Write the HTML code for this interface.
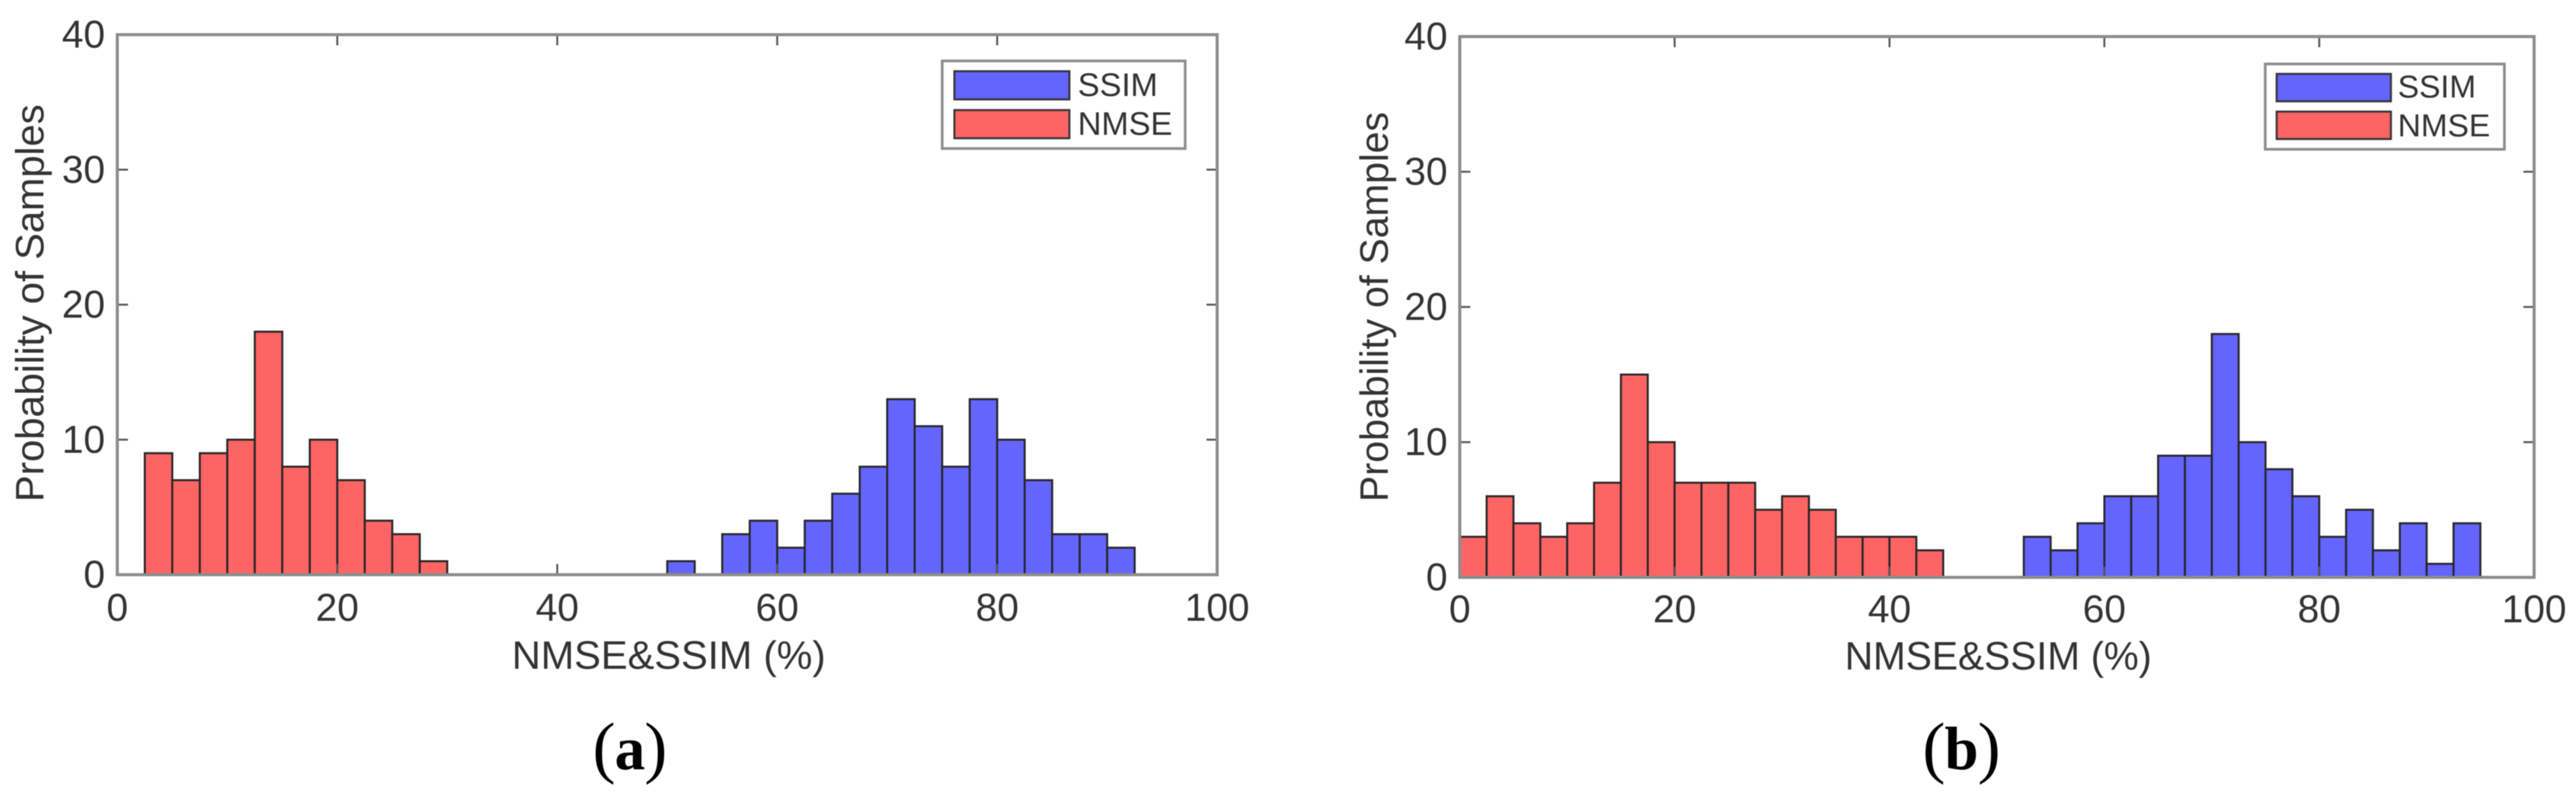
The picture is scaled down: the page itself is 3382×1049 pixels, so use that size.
<!DOCTYPE html>
<html lang="en">
<head>
<meta charset="utf-8">
<title>NMSE and SSIM histograms</title>
<style>
  html, body { margin: 0; padding: 0; background: #fff; }
  body { width: 3382px; height: 1049px; overflow: hidden; }
  svg { display: block; filter: blur(0.6px); }
  text { font-family: "Liberation Sans", Arial, sans-serif; fill: #333; }
  .caption { font-family: "Liberation Serif", "Times New Roman", serif; fill: #000; font-size: 90px; }
  .caption tspan.letter { font-size: 80px; font-weight: bold; }
</style>
</head>
<body>
<svg id="figure" xmlns="http://www.w3.org/2000/svg" width="3382" height="1049" viewBox="0 0 3382 1049">
  <rect x="0" y="0" width="3382" height="1049" fill="#ffffff"/>
  <text class="caption" x="778" y="1011">(<tspan class="letter" y="1010" dx="-1">a</tspan><tspan y="1011" dx="-1">)</tspan></text>
  <text class="caption" x="2524" y="1011">(<tspan class="letter" y="1010" dx="-1">b</tspan><tspan y="1011" dx="-1">)</tspan></text>
</svg>
<script>
// Chart data
const binWidth = 2.5;
const xTickLabels = [0, 20, 40, 60, 80, 100];
const yTickLabels = [0, 10, 20, 30, 40];
const legendLabels = ['SSIM', 'NMSE'];

const nmseStartA = 2.5;
const nmseValuesA = [9, 7, 9, 10, 18, 8, 10, 7, 4, 3, 1];
const ssimStartA = 50;
const ssimValuesA = [1, 0, 3, 4, 2, 4, 6, 8, 13, 11, 8, 13, 10, 7, 3, 3, 2];

const nmseStartB = 0;
const nmseValuesB = [3, 6, 4, 3, 4, 7, 15, 10, 7, 7, 7, 5, 6, 5, 3, 3, 3, 2];
const ssimStartB = 52.5;
const ssimValuesB = [3, 2, 4, 6, 6, 9, 9, 18, 10, 8, 6, 3, 5, 2, 4, 1, 4];

const xMax = 100;
const yMax = 40;
const BLUE = '#6464ff';
const RED = '#ff6464';
const EDGE = '#262626';
const AXIS = '#8c8c8c';
const TICK = '#555555';
const NS = 'http://www.w3.org/2000/svg';
const figure = document.getElementById('figure');

function mk(parent, tag, attrs, content) {
  const el = document.createElementNS(NS, tag);
  for (const k in attrs) el.setAttribute(k, attrs[k]);
  if (content !== undefined) el.textContent = content;
  parent.appendChild(el);
  return el;
}

function drawChart(cfg) {
  const g = mk(figure, 'g', {});
  
  

  const xs = v => cfg.left + (v / xMax) * (cfg.right - cfg.left);
  const ys = v => cfg.bottom - (v / yMax) * (cfg.bottom - cfg.top);

  function drawBars(values, start, color, name) {
    values.forEach((v, i) => {
      if (v <= 0) return;
      const x0 = xs(start + i * binWidth);
      const x1 = xs(start + (i + 1) * binWidth);
      const bar = mk(g, 'rect', {
        x: x0, y: ys(v), width: x1 - x0, height: ys(0) - ys(v),
        fill: color, stroke: EDGE, 'stroke-width': 2.6
      });
      
      
    });
  }
  drawBars(cfg.nmse, cfg.nmseStart, RED, 'nmse');
  drawBars(cfg.ssim, cfg.ssimStart, BLUE, 'ssim');

  // ticks on all four sides
  xTickLabels.forEach(t => {
    if (t === 0 || t === xMax) return;
    const bottomTick = mk(g, 'line', { x1: xs(t), x2: xs(t), y1: cfg.bottom, y2: cfg.bottom - 14, stroke: TICK, 'stroke-width': 2.5 });
    
    
    const topTick = mk(g, 'line', { x1: xs(t), x2: xs(t), y1: cfg.top, y2: cfg.top + 14, stroke: TICK, 'stroke-width': 2.5 });
    
    
  });
  yTickLabels.forEach(t => {
    if (t === 0 || t === yMax) return;
    const leftTick = mk(g, 'line', { x1: cfg.left, x2: cfg.left + 14, y1: ys(t), y2: ys(t), stroke: TICK, 'stroke-width': 2.5 });
    
    
    const rightTick = mk(g, 'line', { x1: cfg.right, x2: cfg.right - 14, y1: ys(t), y2: ys(t), stroke: TICK, 'stroke-width': 2.5 });
    
    
  });

  const frame = mk(g, 'rect', {
    x: cfg.left, y: cfg.top, width: cfg.right - cfg.left, height: cfg.bottom - cfg.top,
    fill: 'none', stroke: AXIS, 'stroke-width': 4
  });
  
  

  // tick labels
  xTickLabels.forEach(t => {
    const label = mk(g, 'text', { x: xs(t), y: cfg.xLabelY, 'text-anchor': 'middle', 'font-size': 51 }, String(t));
    
    
  });
  yTickLabels.forEach(t => {
    const label = mk(g, 'text', { x: cfg.left - 16, y: ys(t) + 17, 'text-anchor': 'end', 'font-size': 51 }, String(t));
    
    
  });

  // axis titles
  const xTitle = mk(g, 'text', {
    x: cfg.xTitleX, y: cfg.xTitleY, 'font-size': 52,
    textLength: cfg.xTitleLen, lengthAdjust: 'spacingAndGlyphs'
  }, 'NMSE&SSIM (%)');
  
  

  const yTitle = mk(g, 'text', {
    x: 0, y: 0, 'font-size': 52,
    transform: 'translate(' + cfg.yTitleX + ',659) rotate(-90)',
    textLength: cfg.yTitleLen, lengthAdjust: 'spacingAndGlyphs'
  }, 'Probability of Samples');
  
  

  // legend
  const lg = cfg.legend;
  const legend = mk(g, 'g', {});
  
  
  const box = mk(legend, 'rect', { x: lg.x0, y: lg.y0, width: lg.x1 - lg.x0, height: lg.y1 - lg.y0, fill: '#fff', stroke: AXIS, 'stroke-width': 3.5 });
  
  
  legendLabels.forEach((name, i) => {
    const swatch = mk(legend, 'rect', {
      x: lg.sx0, y: lg.sy[i], width: lg.sx1 - lg.sx0, height: lg.sh,
      fill: i === 0 ? BLUE : RED, stroke: '#333', 'stroke-width': 2.6
    });
    
    
    const label = mk(legend, 'text', { x: lg.tx, y: lg.by[i], 'font-size': lg.fs }, name);
    
    
  });
}

drawChart({
  id: 'a', left: 154, right: 1598, top: 45.5, bottom: 754.5,
  nmse: nmseValuesA, nmseStart: nmseStartA, ssim: ssimValuesA, ssimStart: ssimStartA,
  xLabelY: 815, xTitleX: 672, xTitleY: 878, xTitleLen: 412, yTitleX: 57, yTitleLen: 522,
  legend: { x0: 1237, x1: 1556, y0: 80, y1: 195, sx0: 1253, sx1: 1404, sy: [93.5, 144.5], sh: 37, tx: 1415, by: [126, 177], fs: 43 }
});
drawChart({
  id: 'b', left: 1916.5, right: 3327, top: 48, bottom: 758,
  nmse: nmseValuesB, nmseStart: nmseStartB, ssim: ssimValuesB, ssimStart: ssimStartB,
  xLabelY: 817, xTitleX: 2422, xTitleY: 879, xTitleLen: 403, yTitleX: 1822, yTitleLen: 512,
  legend: { x0: 2974, x1: 3288, y0: 84, y1: 196, sx0: 2989, sx1: 3139, sy: [97, 146.5], sh: 36, tx: 3148, by: [128, 179], fs: 42 }
});
</script>
</body>
</html>
